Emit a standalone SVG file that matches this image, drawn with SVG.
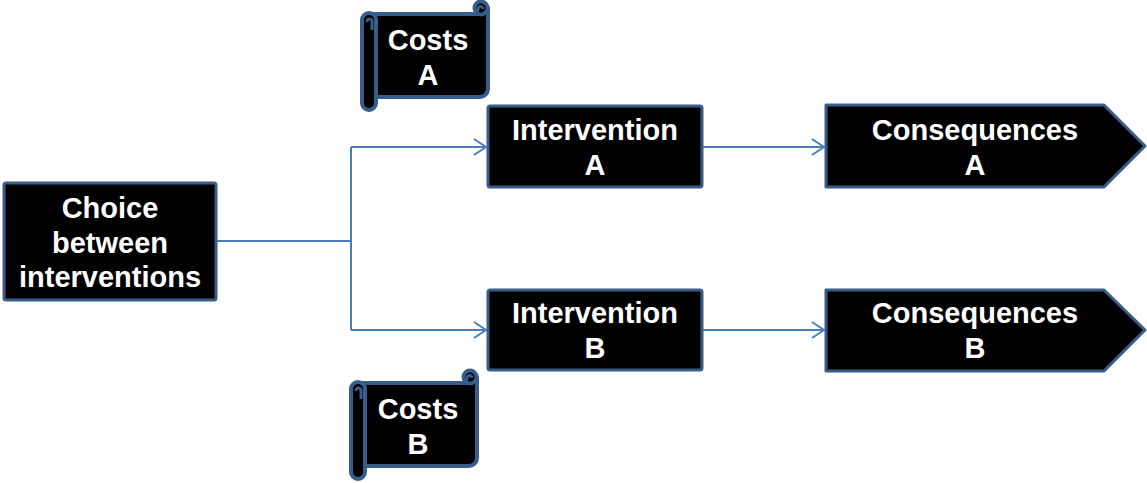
<svg xmlns="http://www.w3.org/2000/svg" width="1147" height="483" viewBox="0 0 1147 483">
<style>
.box{fill:#000;stroke:#385d8a;stroke-width:3;stroke-linejoin:round}
.sc{fill:#000;stroke:#385d8a;stroke-width:4;stroke-linejoin:round}
.curl{fill:none;stroke:#385d8a;stroke-width:3}
.t{fill:#fff;font-family:"Liberation Sans",Arial,sans-serif;font-weight:bold;font-size:29px;text-anchor:middle}
.c{fill:none;stroke:#4a7ebb;stroke-width:2}
</style>
<defs>
<marker id="ah" markerWidth="16" markerHeight="20" refX="14" refY="10" orient="auto" markerUnits="userSpaceOnUse">
<path d="M2 2 L14 10 L2 18" fill="none" stroke="#4a7ebb" stroke-width="2"/>
</marker>
<g id="scroll">
<path class="sc" d="M369 14 H481 V8 H488 V89 A8 8 0 0 1 480 97 H369 Z"/>
<circle class="sc" cx="481" cy="8" r="6.5"/>
<path class="curl" d="M479 11 A2.5 2.5 0 1 1 483 9"/>
<path class="sc" d="M362 20 A7 7 0 0 1 376 20 V103 A7 7 0 0 1 362 103 Z"/>
<path class="curl" d="M367 22 A2.5 2.5 0 1 1 372 21 V30"/>
</g>
</defs>
<g id="connectors">
<path class="c" d="M216 241 H351"/>
<path class="c" d="M351 147 V330"/>
<path class="c" d="M351 147 H486" marker-end="url(#ah)"/>
<path class="c" d="M351 330 H486" marker-end="url(#ah)"/>
<path class="c" d="M702 147 H824" marker-end="url(#ah)"/>
<path class="c" d="M702 330 H824" marker-end="url(#ah)"/>
</g>
<g id="choice">
<rect class="box" x="4" y="183" width="212" height="117" rx="2"/>
<text class="t" x="110" y="218">Choice</text>
<text class="t" x="110" y="253">between</text>
<text class="t" x="110" y="287">interventions</text>
</g>
<g id="costsA">
<use href="#scroll"/>
<text class="t" x="428" y="50">Costs</text>
<text class="t" x="428" y="85">A</text>
</g>
<g id="costsB">
<use href="#scroll" transform="translate(-11 369)"/>
<text class="t" x="418" y="419">Costs</text>
<text class="t" x="418" y="454">B</text>
</g>
<g id="interventionA">
<rect class="box" x="488" y="106" width="214" height="81" rx="2"/>
<text class="t" x="595" y="140">Intervention</text>
<text class="t" x="595" y="175">A</text>
</g>
<g id="interventionB">
<rect class="box" x="488" y="290" width="214" height="80" rx="2"/>
<text class="t" x="595" y="323">Intervention</text>
<text class="t" x="595" y="358">B</text>
</g>
<g id="consequencesA">
<path class="box" d="M826 105 H1104 L1145 146 L1104 187 H826 Z"/>
<text class="t" x="975" y="140">Consequences</text>
<text class="t" x="975" y="175">A</text>
</g>
<g id="consequencesB">
<path class="box" d="M826 290 H1104 L1145 330 L1104 371 H826 Z"/>
<text class="t" x="975" y="323">Consequences</text>
<text class="t" x="975" y="358">B</text>
</g>
</svg>
